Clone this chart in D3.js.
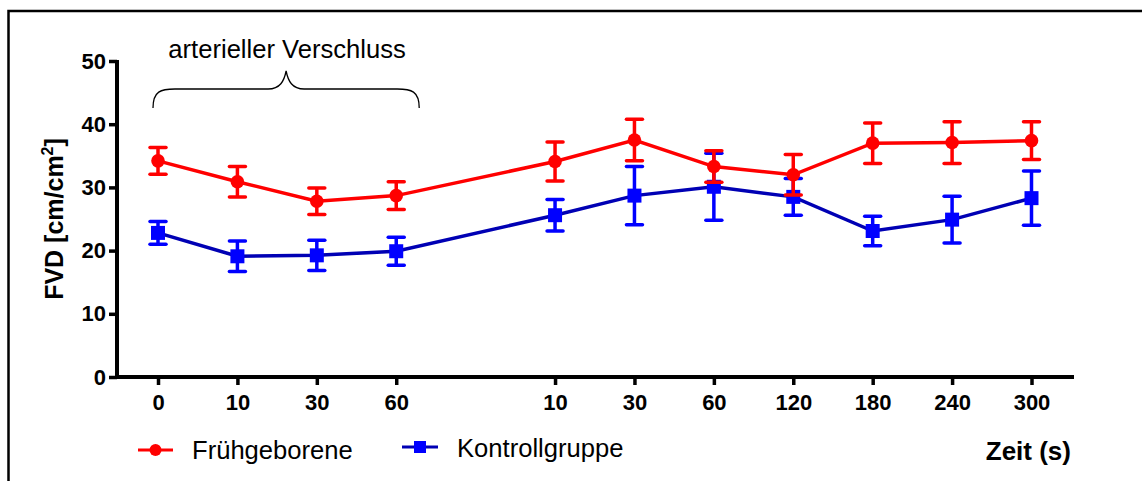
<!DOCTYPE html>
<html>
<head>
<meta charset="utf-8">
<script src="https://cdn.jsdelivr.net/npm/d3@7"></script>
<style>
  html, body { margin: 0; padding: 0; background: #fff; }
  svg { display: block; font-family: "Liberation Sans", Arial, sans-serif; }
</style>
</head>
<body>
<svg id="chart" width="1142" height="481"></svg>
<script>
// Time points: four during arterial occlusion, seven after release
const timeLabels = ["0", "10", "30", "60", "10", "30", "60", "120", "180", "240", "300"];
const slotIndex  = [0, 1, 2, 3, 5, 6, 7, 8, 9, 10, 11];

// Mean FVD [cm/cm²] and error (SEM)
const pretermMean = [34.2, 30.9, 27.8, 28.7, 34.1, 37.5, 33.3, 32.0, 37.0, 37.1, 37.4];
const pretermErr  = [2.1, 2.4, 2.1, 2.2, 3.1, 3.3, 2.5, 3.2, 3.2, 3.3, 3.0];
const controlMean = [22.8, 19.1, 19.25, 19.9, 25.6, 28.7, 30.1, 28.5, 23.1, 24.9, 28.3];
const controlErr  = [1.8, 2.4, 2.4, 2.2, 2.5, 4.6, 5.3, 2.9, 2.35, 3.7, 4.3];

const yTicks = [0, 10, 20, 30, 40, 50];

const FONT = "'Liberation Sans', Arial, sans-serif";
const svg = d3.select("#chart");

// outer frame
svg.append("rect")
  .attr("x", 8.5).attr("y", 11)
  .attr("width", 1200).attr("height", 600)
  .attr("fill", "none").attr("stroke", "#000").attr("stroke-width", 2.5);

const x = d3.scaleLinear().domain([0, 11]).range([158, 1031.5]);
const y = d3.scaleLinear().domain([0, 50]).range([377, 61]);
const xLeft = 117, xRight = 1074;

// y axis
const yAxis = svg.append("g").attr("transform", `translate(${xLeft},0)`)
  .call(d3.axisLeft(y).tickValues(yTicks).tickSize(8).tickPadding(3).tickFormat(d3.format("d")));
yAxis.select(".domain").remove();
yAxis.append("line").attr("x1", 0).attr("x2", 0).attr("y1", y(50) - 1).attr("y2", y(0) + 2)
  .attr("stroke", "#000").attr("stroke-width", 4);
yAxis.selectAll(".tick line").attr("stroke", "#000").attr("stroke-width", 3.5);
yAxis.selectAll(".tick text").attr("fill", "#000")
  .style("font-size", "22px").style("font-weight", "bold").style("font-family", FONT);

// x axis
const xAxis = svg.append("g").attr("transform", `translate(0,${y(0)})`)
  .call(d3.axisBottom(x).tickValues(slotIndex).tickSize(8).tickPadding(9)
    .tickFormat((d, i) => timeLabels[i]));
xAxis.select(".domain").remove();
xAxis.append("line").attr("x1", xLeft - 2).attr("x2", xRight).attr("y1", 0).attr("y2", 0)
  .attr("stroke", "#000").attr("stroke-width", 4);
xAxis.selectAll(".tick line").attr("stroke", "#000").attr("stroke-width", 3.5);
xAxis.selectAll(".tick text").attr("fill", "#000")
  .style("font-size", "22px").style("font-weight", "bold").style("font-family", FONT);

// y axis title
const yTitle = svg.append("text")
  .attr("transform", `translate(63,219) rotate(-90)`)
  .attr("text-anchor", "middle")
  .style("font-size", "25px").style("font-weight", "bold");
yTitle.append("tspan").text("FVD [cm/cm");
yTitle.append("tspan").attr("dy", -10).style("font-size", "16px").text("2");
yTitle.append("tspan").attr("dy", 10).text("]");

// series
const series = [
  { name: "Frühgeborene", mean: pretermMean, err: pretermErr, line: "#ff0000", fill: "#ff0000", shape: "circle" },
  { name: "Kontrollgruppe", mean: controlMean, err: controlErr, line: "#0000b4", fill: "#0000ff", shape: "square" }
];

const capHalf = 8;
series.slice().reverse().forEach(s => {
  const pts = s.mean.map((m, i) => ({ x: x(slotIndex[i]), m, e: s.err[i] }));
  svg.append("path")
    .attr("d", d3.line().x(d => d.x).y(d => y(d.m))(pts))
    .attr("fill", "none").attr("stroke", s.line).attr("stroke-width", 3.5);
});

series.slice().reverse().forEach(s => {
  const pts = s.mean.map((m, i) => ({ x: x(slotIndex[i]), m, e: s.err[i] }));
  const g = svg.append("g");
  const eb = g.selectAll("g.eb").data(pts).join("g");
  eb.append("line").attr("x1", d => d.x).attr("x2", d => d.x)
    .attr("y1", d => y(d.m + d.e)).attr("y2", d => y(d.m - d.e))
    .attr("stroke", s.fill).attr("stroke-width", 3.5);
  eb.append("line").attr("x1", d => d.x - capHalf).attr("x2", d => d.x + capHalf)
    .attr("y1", d => y(d.m + d.e)).attr("y2", d => y(d.m + d.e))
    .attr("stroke", s.fill).attr("stroke-width", 3.5).attr("stroke-linecap", "round");
  eb.append("line").attr("x1", d => d.x - capHalf).attr("x2", d => d.x + capHalf)
    .attr("y1", d => y(d.m - d.e)).attr("y2", d => y(d.m - d.e))
    .attr("stroke", s.fill).attr("stroke-width", 3.5).attr("stroke-linecap", "round");
  if (s.shape === "circle") {
    g.selectAll("circle").data(pts).join("circle")
      .attr("cx", d => d.x).attr("cy", d => y(d.m)).attr("r", 6.8).attr("fill", s.fill);
  } else {
    g.selectAll("rect").data(pts).join("rect")
      .attr("x", d => d.x - 7).attr("y", d => y(d.m) - 7)
      .attr("width", 14).attr("height", 14).attr("fill", s.fill);
  }
});

// occlusion annotation: brace and label
const bx0 = x(0) - 5, bx1 = x(3) + 23, bMid = (bx0 + bx1) / 2;
const bTop = 89, bEnd = 108, bTip = 71;
svg.append("path")
  .attr("d", `M${bx0},${bEnd} C${bx0},${bTop + 2} ${bx0 + 8},${bTop} ${bx0 + 22},${bTop}
              L${bMid - 18},${bTop} C${bMid - 6},${bTop} ${bMid - 2},${bTop - 8} ${bMid},${bTip}
              C${bMid + 2},${bTop - 8} ${bMid + 6},${bTop} ${bMid + 18},${bTop}
              L${bx1 - 22},${bTop} C${bx1 - 8},${bTop} ${bx1},${bTop + 2} ${bx1},${bEnd}`)
  .attr("fill", "none").attr("stroke", "#000").attr("stroke-width", 1.3);
svg.append("text").attr("x", bMid + 1).attr("y", 58)
  .attr("text-anchor", "middle").style("font-size", "25.6px")
  .text("arterieller Verschluss");

// legend
const legend = [
  { s: series[0], x0: 138, x1: 173, ty: 459, cy: 450, tx: 192 },
  { s: series[1], x0: 402, x1: 438, ty: 456.5, cy: 447, tx: 457 }
];
legend.forEach(l => {
  const g = svg.append("g");
  g.append("line").attr("x1", l.x0).attr("x2", l.x1).attr("y1", l.cy).attr("y2", l.cy)
    .attr("stroke", l.s.line).attr("stroke-width", 3);
  const cx = (l.x0 + l.x1) / 2;
  if (l.s.shape === "circle") {
    g.append("circle").attr("cx", cx).attr("cy", l.cy).attr("r", 6).attr("fill", l.s.fill);
  } else {
    g.append("rect").attr("x", cx - 6).attr("y", l.cy - 6).attr("width", 12).attr("height", 12)
      .attr("fill", l.s.fill);
  }
  g.append("text").attr("x", l.tx).attr("y", l.ty).style("font-size", "25.6px").text(l.s.name);
});

// x axis title
svg.append("text").attr("x", 1071).attr("y", 460).attr("text-anchor", "end")
  .style("font-size", "26px").style("font-weight", "bold").text("Zeit (s)");
</script>
</body>
</html>
